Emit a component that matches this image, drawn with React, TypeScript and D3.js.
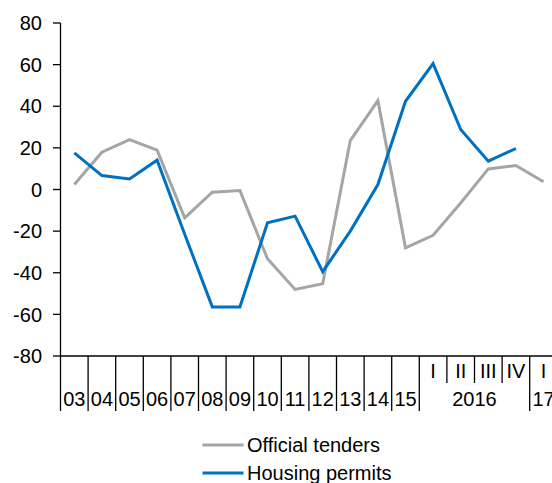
import React from "react";
import * as d3 from "d3";

const categories = ["03","04","05","06","07","08","09","10","11","12","13","14","15","2016 I","2016 II","2016 III","2016 IV","17 I"];
const topLabels = ["", "", "", "", "", "", "", "", "", "", "", "", "", "I", "II", "III", "IV", "I"];
const groups = [
  { label: "03", start: 0, end: 0 },
  { label: "04", start: 1, end: 1 },
  { label: "05", start: 2, end: 2 },
  { label: "06", start: 3, end: 3 },
  { label: "07", start: 4, end: 4 },
  { label: "08", start: 5, end: 5 },
  { label: "09", start: 6, end: 6 },
  { label: "10", start: 7, end: 7 },
  { label: "11", start: 8, end: 8 },
  { label: "12", start: 9, end: 9 },
  { label: "13", start: 10, end: 10 },
  { label: "14", start: 11, end: 11 },
  { label: "15", start: 12, end: 12 },
  { label: "2016", start: 13, end: 16 },
  { label: "17", start: 17, end: 17 },
];
const officialTenders: (number | null)[] = [2.4, 17.9, 24, 18.9, -13.6, -1.3, -0.5, -33.3, -48, -45.3, 23.5, 42.7, -28, -22, -6.5, 9.9, 11.5, 3.7];
const housingPermits: (number | null)[] = [17.6, 6.7, 5.1, 14.1, -21.5, -56.4, -56.4, -16, -12.8, -39.5, -20, 2.4, 42.4, 60.5, 28.8, 13.6, 19.7, null];
const yTicks = [80, 60, 40, 20, 0, -20, -40, -60, -80];

const W = 552, H = 483;
const FONT = "'Liberation Sans', Arial, sans-serif";

export default function App() {
  const x = d3.scaleBand<string>().domain(categories).range([60.5, 60.5 + 27.6 * 18]).padding(0);
  const y = d3.scaleLinear().domain([-80, 80]).range([356, 23]);
  const cx = (i: number) => (x(categories[i]) as number) + x.bandwidth() / 2;
  const line = d3
    .line<number | null>()
    .defined((d) => d !== null)
    .x((_, i) => cx(i))
    .y((d) => y(d as number));
  const axisY = y(-80);
  const left = 60.5;

  return (
    <svg width={W} height={H} style={{ position: "absolute", left: 0, top: 0 }} fontFamily={FONT}>
      <defs>
        <clipPath id="clip">
          <rect x={0} y={0} width={W} height={H} />
        </clipPath>
      </defs>
      <g clipPath="url(#clip)">
        {/* y axis */}
        <line x1={left} x2={left} y1={y(80)} y2={axisY} stroke="#000" strokeWidth={1.3} />
        {yTicks.map((t) => (
          <g key={t}>
            <line x1={53} x2={left} y1={y(t)} y2={y(t)} stroke="#000" strokeWidth={1.3} />
            <text x={42} y={y(t)} dy="0.36em" textAnchor="end" fontSize={20} fill="#000">
              {t}
            </text>
          </g>
        ))}
        {/* x axis */}
        <line x1={left} x2={W} y1={axisY} y2={axisY} stroke="#000" strokeWidth={1.3} />
        {categories.map((c, i) => {
          const bx = x(c) as number;
          const isGroupStart = groups.some((g) => g.start === i);
          return (
            <line
              key={"sep" + c}
              x1={bx}
              x2={bx}
              y1={axisY}
              y2={isGroupStart ? 411 : 383}
              stroke="#000"
              strokeWidth={1.3}
            />
          );
        })}
        {topLabels.map((l, i) =>
          l ? (
            <text key={"tl" + i} x={cx(i)} y={378} textAnchor="middle" fontSize={20} fill="#000">
              {l}
            </text>
          ) : null
        )}
        {groups.map((g) => {
          const gx = ((x(categories[g.start]) as number) + (x(categories[g.end]) as number) + x.bandwidth()) / 2;
          return (
            <text key={"g" + g.label} x={gx} y={406} textAnchor="middle" fontSize={20} fill="#000">
              {g.label}
            </text>
          );
        })}
        {/* series */}
        <path d={line(officialTenders) || ""} fill="none" stroke="#A5A5A5" strokeWidth={3} strokeLinejoin="miter" />
        <path d={line(housingPermits) || ""} fill="none" stroke="#0070C0" strokeWidth={3} strokeLinejoin="miter" />
        {/* legend */}
        <line x1={202.5} x2={243.5} y1={445} y2={445} stroke="#A5A5A5" strokeWidth={3} />
        <text x={247} y={445} dy="0.36em" fontSize={20} fill="#000">Official tenders</text>
        <line x1={202.5} x2={243.5} y1={473} y2={473} stroke="#0070C0" strokeWidth={3} />
        <text x={247} y={473} dy="0.36em" fontSize={20} fill="#000">Housing permits</text>
      </g>
    </svg>
  );
}
